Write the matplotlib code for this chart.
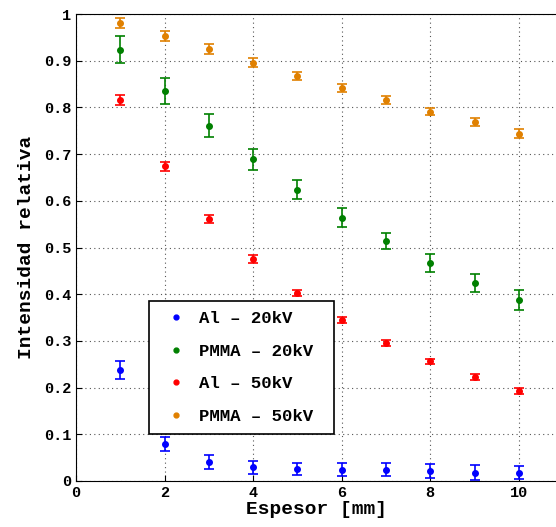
import matplotlib
matplotlib.use("Agg")
import matplotlib.pyplot as plt
from matplotlib.lines import Line2D

thickness = [1, 2, 3, 4, 5, 6, 7, 8, 9, 10]

al20 = [0.238, 0.079, 0.040, 0.029, 0.025, 0.024, 0.024, 0.021, 0.018, 0.018]
al20_err = [0.019, 0.015, 0.015, 0.014, 0.013, 0.014, 0.014, 0.015, 0.016, 0.014]

pmma20 = [0.924, 0.836, 0.761, 0.689, 0.624, 0.564, 0.514, 0.467, 0.424, 0.387]
pmma20_err = [0.028, 0.028, 0.024, 0.022, 0.021, 0.020, 0.017, 0.019, 0.019, 0.021]

al50 = [0.816, 0.674, 0.561, 0.475, 0.403, 0.345, 0.296, 0.256, 0.223, 0.193]
al50_err = [0.011, 0.010, 0.008, 0.009, 0.006, 0.006, 0.006, 0.006, 0.006, 0.006]

pmma50 = [0.981, 0.953, 0.925, 0.896, 0.867, 0.842, 0.816, 0.791, 0.769, 0.744]
pmma50_err = [0.011, 0.010, 0.010, 0.010, 0.008, 0.009, 0.008, 0.008, 0.008, 0.009]

labels = ["Al – 20kV", "PMMA – 20kV", "Al – 50kV", "PMMA – 50kV"]
colors = ["#0000ff", "#008000", "#ff0000", "#e08000"]

plt.rcParams['font.family'] = ['Liberation Mono', 'DejaVu Sans Mono']
plt.rcParams['font.weight'] = 'bold'

fig = plt.figure(figsize=(5.56, 5.27), dpi=100)
ax = fig.add_axes([0.1367, 0.0873, 0.8633, 0.8861])

series = [(al20, al20_err), (pmma20, pmma20_err), (al50, al50_err), (pmma50, pmma50_err)]
for (vals, errs), lab, col in zip(series, labels, colors):
    ax.errorbar(thickness, vals, yerr=errs, fmt='o', color=col, ms=4,
                ecolor=col, elinewidth=1.2, capsize=3.5, capthick=1.2,
                label=lab)

ax.set_xlim(0, 10.84)
ax.set_ylim(0, 1)
ax.set_xticks([0, 2, 4, 6, 8, 10])
ax.set_yticks([0, 0.1, 0.2, 0.3, 0.4, 0.5, 0.6, 0.7, 0.8, 0.9, 1])
ax.set_yticklabels(["0", "0.1", "0.2", "0.3", "0.4", "0.5", "0.6", "0.7", "0.8", "0.9", "1"])
ax.grid(True, linestyle=(0, (1, 3)), color='#555555', linewidth=0.8)
ax.tick_params(direction='in', labelsize=11, length=4)
for lab in ax.get_xticklabels() + ax.get_yticklabels():
    lab.set_fontweight('bold')
ax.spines['right'].set_visible(False)

ax.set_xlabel("Espesor [mm]", fontsize=14, fontweight='bold', labelpad=1)
ax.set_ylabel("Intensidad relativa", fontsize=14, fontweight='bold', labelpad=6)

h = [Line2D([], [], marker='o', linestyle='none', color=c, ms=3.5) for c in colors]
leg = ax.legend(h, labels, loc='lower left', mode='expand',
                bbox_to_anchor=(1.65 / 10.84, 0.10, 0.385, 0.28),
                frameon=True, fancybox=False, edgecolor='black', framealpha=1,
                prop={'family': 'Liberation Mono', 'weight': 'bold', 'size': 12.5},
                handletextpad=0.4, labelspacing=1.0, borderpad=0.6, borderaxespad=0,
                handlelength=1.9)
leg.get_frame().set_linewidth(1.2)

fig.savefig("out.png", dpi=100)
